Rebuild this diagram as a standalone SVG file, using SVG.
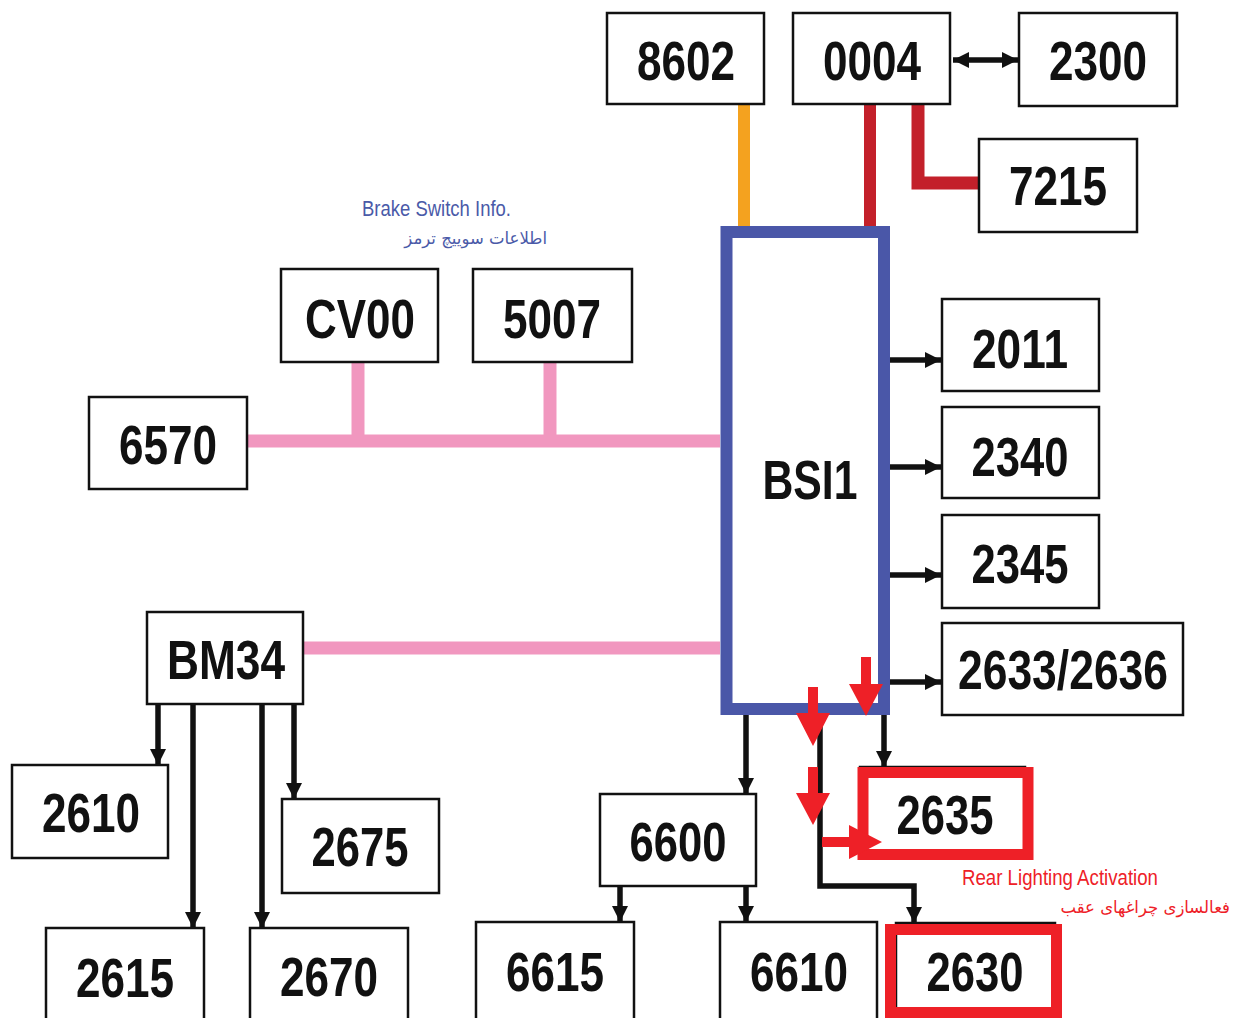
<svg xmlns="http://www.w3.org/2000/svg" width="1240" height="1018" viewBox="0 0 1240 1018">
<style>
.box{fill:#fff;stroke:#111;stroke-width:2.5}
.lbl{font-family:"Liberation Sans Narrow","Liberation Sans",Arial,sans-serif;font-weight:bold;font-size:56px;fill:#111;text-anchor:middle}
.blk{stroke:#111;stroke-width:5.5;fill:none}
.pink{stroke:#f197bf;stroke-width:13;fill:none}
.red{fill:#ee2027}
.note{font-family:"Liberation Sans Narrow","Liberation Sans",Arial,sans-serif;font-size:22px}
.fa{font-family:"DejaVu Sans","Noto Sans",sans-serif;font-size:16.5px;text-anchor:end}
</style>
<defs>
<marker id="ah" markerUnits="userSpaceOnUse" markerWidth="16" markerHeight="16" refX="16" refY="8" orient="auto-start-reverse">
<path d="M0,0 L16,8 L0,16 z" fill="#111"/>
</marker>
</defs>
<rect width="1240" height="1018" fill="#fff"/>

<g id="connectors">
<line x1="744" y1="104" x2="744" y2="226" stroke="#f4a21f" stroke-width="12"/>
<line x1="870" y1="104" x2="870" y2="226" stroke="#c3202a" stroke-width="12"/>
<path d="M918,104 V183 H979" stroke="#c3202a" stroke-width="13" fill="none"/>
<line x1="953" y1="60" x2="1018" y2="60" class="blk" marker-start="url(#ah)" marker-end="url(#ah)"/>
<line x1="247" y1="441" x2="720" y2="441" class="pink"/>
<line x1="358" y1="362" x2="358" y2="441" class="pink"/>
<line x1="550" y1="362" x2="550" y2="441" class="pink"/>
<line x1="303" y1="648" x2="720" y2="648" class="pink"/>
<line x1="890" y1="360" x2="941" y2="360" class="blk" marker-end="url(#ah)"/>
<line x1="890" y1="467" x2="941" y2="467" class="blk" marker-end="url(#ah)"/>
<line x1="890" y1="575" x2="941" y2="575" class="blk" marker-end="url(#ah)"/>
<line x1="890" y1="682" x2="941" y2="682" class="blk" marker-end="url(#ah)"/>
<line x1="158" y1="704" x2="158" y2="765" class="blk" marker-end="url(#ah)"/>
<line x1="193" y1="704" x2="193" y2="928" class="blk" marker-end="url(#ah)"/>
<line x1="262" y1="704" x2="262" y2="928" class="blk" marker-end="url(#ah)"/>
<line x1="294" y1="704" x2="294" y2="799" class="blk" marker-end="url(#ah)"/>
<line x1="746" y1="715" x2="746" y2="794" class="blk" marker-end="url(#ah)"/>
<line x1="884" y1="715" x2="884" y2="767" class="blk" marker-end="url(#ah)"/>
<path d="M820,715 V886 H914 V923" class="blk" marker-end="url(#ah)"/>
<line x1="620" y1="886" x2="620" y2="922" class="blk" marker-end="url(#ah)"/>
<line x1="746" y1="886" x2="746" y2="922" class="blk" marker-end="url(#ah)"/>
</g>

<g id="n8602"><rect class="box" x="607" y="13" width="157" height="91"/><text class="lbl" x="686" y="80" textLength="98" lengthAdjust="spacingAndGlyphs">8602</text></g>
<g id="n0004"><rect class="box" x="793" y="13" width="157" height="91"/><text class="lbl" x="872" y="80" textLength="98" lengthAdjust="spacingAndGlyphs">0004</text></g>
<g id="n2300"><rect class="box" x="1019" y="13" width="158" height="93"/><text class="lbl" x="1098" y="80" textLength="98" lengthAdjust="spacingAndGlyphs">2300</text></g>
<g id="n7215"><rect class="box" x="979" y="139" width="158" height="93"/><text class="lbl" x="1058" y="205" textLength="98" lengthAdjust="spacingAndGlyphs">7215</text></g>
<g id="nCV00"><rect class="box" x="281" y="269" width="157" height="93"/><text class="lbl" x="360" y="338" textLength="110" lengthAdjust="spacingAndGlyphs">CV00</text></g>
<g id="n5007"><rect class="box" x="473" y="269" width="159" height="93"/><text class="lbl" x="552" y="338" textLength="98" lengthAdjust="spacingAndGlyphs">5007</text></g>
<g id="n6570"><rect class="box" x="89" y="397" width="158" height="92"/><text class="lbl" x="168" y="464" textLength="98" lengthAdjust="spacingAndGlyphs">6570</text></g>
<g id="nBSI1"><rect x="726.5" y="232" width="157.5" height="477" fill="#fff" stroke="#4a57a8" stroke-width="12"/><text class="lbl" x="810" y="499" textLength="95" lengthAdjust="spacingAndGlyphs">BSI1</text></g>
<g id="n2011"><rect class="box" x="942" y="299" width="157" height="92"/><text class="lbl" x="1020" y="368" textLength="96" lengthAdjust="spacingAndGlyphs">2011</text></g>
<g id="n2340"><rect class="box" x="942" y="407" width="157" height="91"/><text class="lbl" x="1020" y="476" textLength="97" lengthAdjust="spacingAndGlyphs">2340</text></g>
<g id="n2345"><rect class="box" x="942" y="515" width="157" height="93"/><text class="lbl" x="1020" y="583" textLength="97" lengthAdjust="spacingAndGlyphs">2345</text></g>
<g id="n2633"><rect class="box" x="942" y="623" width="241" height="92"/><text class="lbl" x="1063" y="689" textLength="210" lengthAdjust="spacingAndGlyphs">2633/2636</text></g>
<g id="nBM34"><rect class="box" x="147" y="612" width="156" height="92"/><text class="lbl" x="226" y="679" textLength="118" lengthAdjust="spacingAndGlyphs">BM34</text></g>
<g id="n2610"><rect class="box" x="12" y="765" width="156" height="93"/><text class="lbl" x="91" y="832" textLength="98" lengthAdjust="spacingAndGlyphs">2610</text></g>
<g id="n2675"><rect class="box" x="282" y="799" width="157" height="94"/><text class="lbl" x="360" y="866" textLength="97" lengthAdjust="spacingAndGlyphs">2675</text></g>
<g id="n2615"><rect class="box" x="46" y="928" width="158" height="100"/><text class="lbl" x="125" y="997" textLength="98" lengthAdjust="spacingAndGlyphs">2615</text></g>
<g id="n2670"><rect class="box" x="250" y="928" width="158" height="100"/><text class="lbl" x="329" y="996" textLength="98" lengthAdjust="spacingAndGlyphs">2670</text></g>
<g id="n6600"><rect class="box" x="600" y="794" width="156" height="92"/><text class="lbl" x="678" y="861" textLength="97" lengthAdjust="spacingAndGlyphs">6600</text></g>
<g id="n6615"><rect class="box" x="476" y="922" width="158" height="100"/><text class="lbl" x="555" y="991" textLength="98" lengthAdjust="spacingAndGlyphs">6615</text></g>
<g id="n6610"><rect class="box" x="720" y="922" width="157" height="100"/><text class="lbl" x="799" y="991" textLength="98" lengthAdjust="spacingAndGlyphs">6610</text></g>
<g id="n2635"><rect class="box" x="860" y="767" width="165" height="88"/><rect x="863" y="772.5" width="165" height="82" fill="none" stroke="#ee2027" stroke-width="11"/><text class="lbl" x="945" y="834" textLength="97" lengthAdjust="spacingAndGlyphs">2635</text></g>
<g id="n2630"><rect class="box" x="896" y="923" width="159" height="100"/><rect x="890.5" y="929.5" width="166" height="83" fill="none" stroke="#ee2027" stroke-width="11"/><text class="lbl" x="975" y="991" textLength="97" lengthAdjust="spacingAndGlyphs">2630</text></g>

<g id="red-arrows">
<path class="red" d="M861,657 H871 V684 H883 L866,716 L849,684 H861 Z"/>
<path class="red" d="M808,687 H818 V713 H830 L813,746 L796,713 H808 Z"/>
<path class="red" d="M808,767 H818 V793 H830 L813,825 L796,793 H808 Z"/>
<path class="red" d="M822,837 H849 V825 L882,842 L849,859 V847 H822 Z"/>
</g>

<g id="notes">
<text class="note" x="362" y="216" fill="#4a5aa8" textLength="149" lengthAdjust="spacingAndGlyphs">Brake Switch Info.</text>
<text class="fa" x="547" y="244" fill="#4a5aa8">اطلاعات سوییچ ترمز</text>
<text class="note" x="962" y="885" fill="#ee2027" textLength="196" lengthAdjust="spacingAndGlyphs">Rear Lighting Activation</text>
<text class="fa" x="1230" y="913" fill="#ee2027">فعالسازی چراغهای عقب</text>
</g>
</svg>
